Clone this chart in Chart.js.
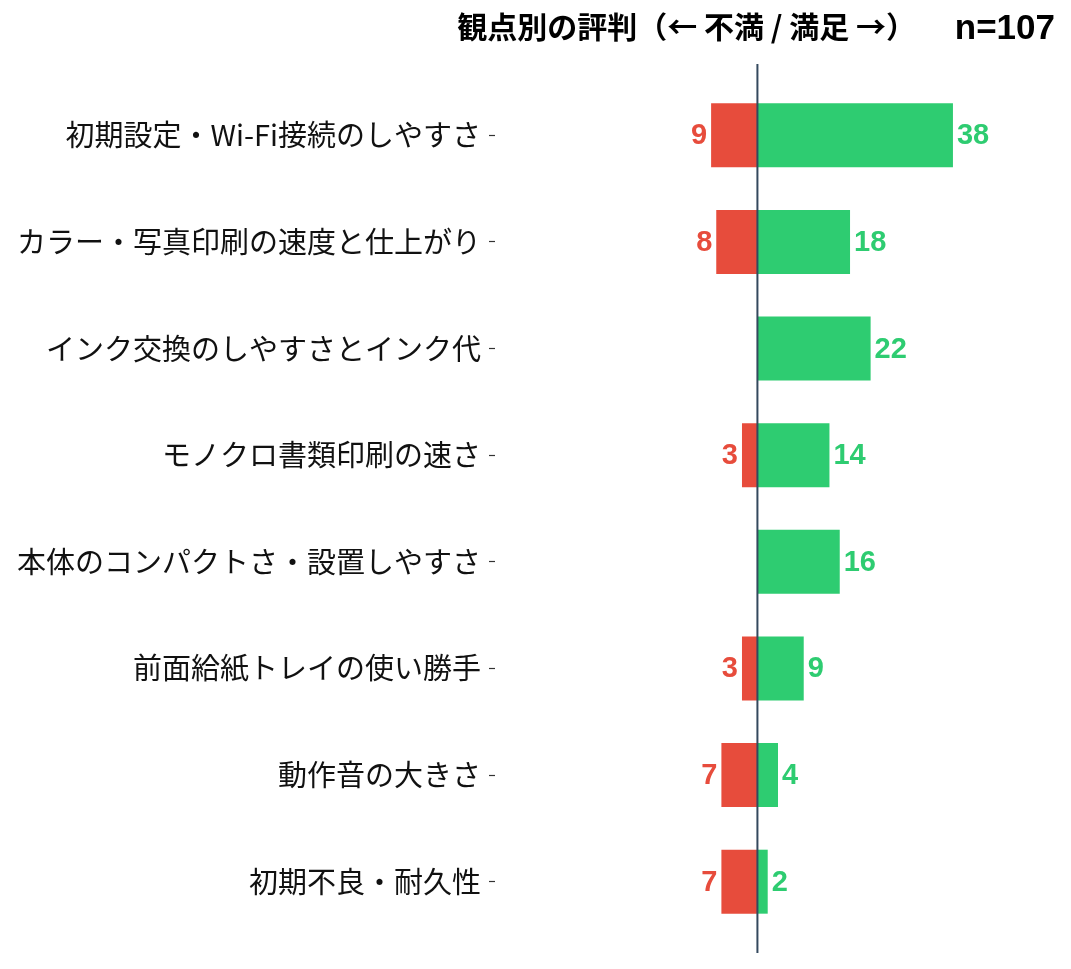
<!DOCTYPE html>
<html>
<head>
<meta charset="utf-8">
<script src="https://cdn.jsdelivr.net/npm/chart.js@4.4.1/dist/chart.umd.min.js"></script>
<style>
  html, body { margin: 0; padding: 0; background: #fff; }
  #wrap { width: 1071px; height: 969px; }
</style>
</head>
<body>
<div id="wrap"><canvas id="canvas"></canvas></div>
<script>
let colorRed = "#E74C3C";
let colorGreen = "#2ECC71";
let colorAxis = "#34495E";
let fontJP = "'Noto Sans CJK JP', 'Noto Sans', sans-serif";
let fontNum = "'Liberation Sans', 'Noto Sans CJK JP', sans-serif";

let aspects = [
    "初期設定・Wi-Fi接続のしやすさ",
    "カラー・写真印刷の速度と仕上がり",
    "インク交換のしやすさとインク代",
    "モノクロ書類印刷の速さ",
    "本体のコンパクトさ・設置しやすさ",
    "前面給紙トレイの使い勝手",
    "動作音の大きさ",
    "初期不良・耐久性"
];
let unhappy = [9, 8, 0, 3, 0, 3, 7, 7];
let happy = [38, 18, 22, 14, 16, 9, 4, 2];
let titleText = "観点別の評判（← 不満 / 満足 →）";
let sampleText = "n=107";

// zero line, value labels and the heading
let extras = {
    id: "extras",
    afterDatasetsDraw(chart) {
        let ctx = chart.ctx;
        let x = chart.scales.x;
        let area = chart.chartArea;
        let x0 = x.getPixelForValue(0);
        ctx.save();
        ctx.strokeStyle = colorAxis;
        ctx.lineWidth = 2;
        ctx.beginPath();
        ctx.moveTo(x0, area.top - 18);
        ctx.lineTo(x0, area.bottom + 18);
        ctx.stroke();

        ctx.font = "bold 29px " + fontNum;
        ctx.textBaseline = "middle";
        chart.getDatasetMeta(0).data.forEach((bar, i) => {
            if (!unhappy[i]) return;
            ctx.fillStyle = colorRed;
            ctx.textAlign = "right";
            ctx.fillText(String(unhappy[i]), bar.x - 4, bar.y + 1);
        });
        chart.getDatasetMeta(1).data.forEach((bar, i) => {
            if (!happy[i]) return;
            ctx.fillStyle = colorGreen;
            ctx.textAlign = "left";
            ctx.fillText(String(happy[i]), bar.x + 4, bar.y + 1);
        });

        ctx.fillStyle = "#000";
        ctx.textBaseline = "middle";
        ctx.textAlign = "right";
        ctx.font = "bold 30px " + fontJP;
        ctx.fillText(titleText, 916, 27);
        ctx.font = "bold 35px " + fontNum;
        ctx.fillText(sampleText, 1055, 29);
        ctx.restore();
    }
};

new Chart(document.getElementById("canvas").getContext("2d"), {
    type: "bar",
    data: {
        labels: aspects,
        datasets: [{
            label: "不満",
            data: unhappy.map((v) => -v),
            backgroundColor: colorRed,
            barPercentage: 0.6,
            categoryPercentage: 1
        }, {
            label: "満足",
            data: happy,
            backgroundColor: colorGreen,
            barPercentage: 0.6,
            categoryPercentage: 1
        }]
    },
    options: {
        indexAxis: "y",
        responsive: true,
        maintainAspectRatio: false,
        animation: false,
        layout: {
            padding: {top: 82, bottom: 34, right: 10, left: 0}
        },
        plugins: {
            legend: {display: false},
            tooltip: {enabled: false}
        },
        scales: {
            x: {
                stacked: true,
                min: -51,
                max: 59,
                display: false
            },
            y: {
                stacked: true,
                border: {display: false},
                grid: {
                    offset: false,
                    drawOnChartArea: false,
                    tickLength: 6,
                    tickColor: "#333",
                    tickWidth: 1.2
                },
                ticks: {
                    color: "#111",
                    padding: 8,
                    font: {family: fontJP, size: 29}
                },
                afterFit: (scale) => { scale.width = 495; }
            }
        }
    },
    plugins: [extras]
});
</script>
</body>
</html>
